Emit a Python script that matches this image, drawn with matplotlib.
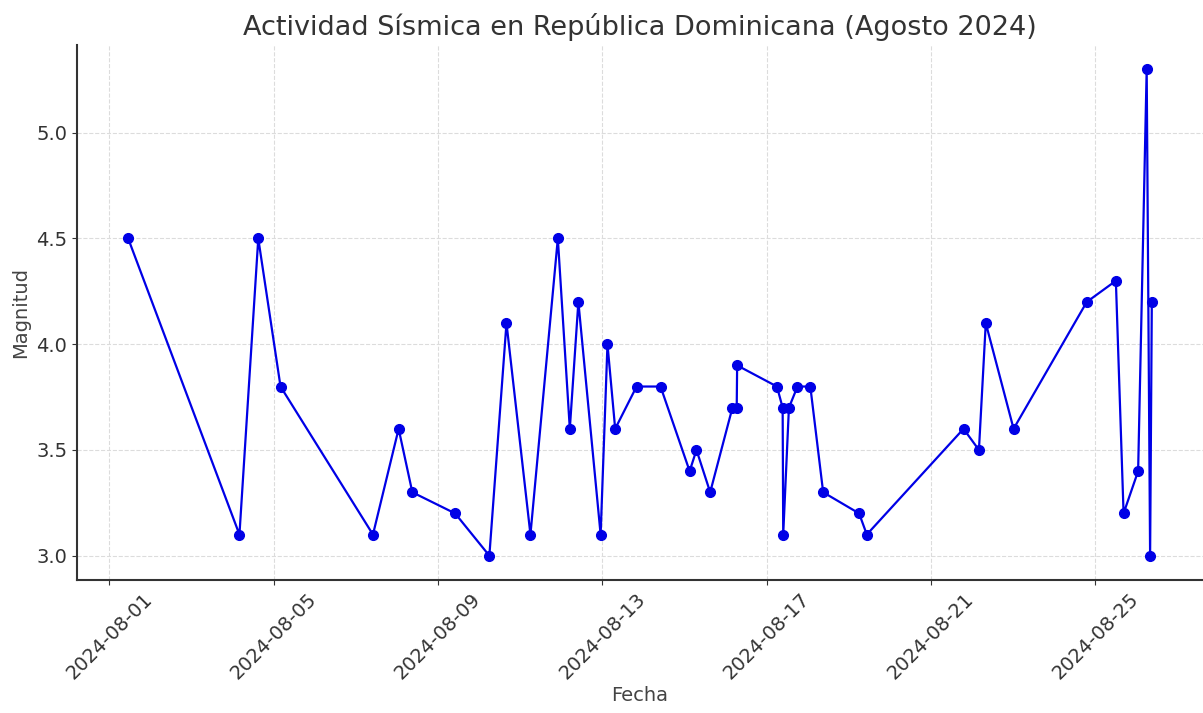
import pandas as pd
import matplotlib
matplotlib.use('Agg')
import matplotlib.pyplot as plt
import matplotlib.dates as mdates

# Sismos (fecha/hora aproximada, magnitud)
fechas = [
    '2024-08-01 11:00', '2024-08-04 04:00', '2024-08-04 15:00', '2024-08-05 04:00',
    '2024-08-07 10:00', '2024-08-08 01:00', '2024-08-08 09:00', '2024-08-09 10:00',
    '2024-08-10 06:00', '2024-08-10 16:00', '2024-08-11 06:00', '2024-08-11 22:00',
    '2024-08-12 05:00', '2024-08-12 10:00', '2024-08-12 23:00', '2024-08-13 03:00',
    '2024-08-13 07:30', '2024-08-13 20:00', '2024-08-14 10:00', '2024-08-15 03:00',
    '2024-08-15 07:00', '2024-08-15 15:00', '2024-08-16 04:00', '2024-08-16 06:30',
    '2024-08-16 06:45', '2024-08-17 06:00', '2024-08-17 09:20', '2024-08-17 09:40',
    '2024-08-17 13:00', '2024-08-17 18:00', '2024-08-18 01:30', '2024-08-18 09:00',
    '2024-08-19 06:00', '2024-08-19 10:30', '2024-08-21 19:00', '2024-08-22 04:00',
    '2024-08-22 08:00', '2024-08-23 00:15', '2024-08-24 19:00', '2024-08-25 12:00',
    '2024-08-25 16:30', '2024-08-26 01:00', '2024-08-26 06:00', '2024-08-26 08:00',
    '2024-08-26 09:00',
]
magnitudes = [
    4.5, 3.1, 4.5, 3.8,
    3.1, 3.6, 3.3, 3.2,
    3.0, 4.1, 3.1, 4.5,
    3.6, 4.2, 3.1, 4.0,
    3.6, 3.8, 3.8, 3.4,
    3.5, 3.3, 3.7, 3.7,
    3.9, 3.8, 3.7, 3.1,
    3.7, 3.8, 3.8, 3.3,
    3.2, 3.1, 3.6, 3.5,
    4.1, 3.6, 4.2, 4.3,
    3.2, 3.4, 5.3, 3.0,
    4.2,
]
dias_tick = [1, 5, 9, 13, 17, 21, 25, 29]

df = pd.DataFrame({'fecha': pd.to_datetime(fechas), 'magnitud': magnitudes})

texto = '#333333'

fig = plt.figure(figsize=(12.03, 7.13), dpi=100)
ax = fig.add_axes([0.064, 0.1865, 0.936, 0.7504])

ax.plot(df['fecha'], df['magnitud'], marker='o', linestyle='-', color='#0000e6',
        linewidth=1.6, markersize=7)

ax.set_title('Actividad Sísmica en República Dominicana (Agosto 2024)',
             fontsize=19.5, color=texto, pad=7)
ax.set_xlabel('Fecha', fontsize=14, color='#444444', labelpad=2)
ax.set_ylabel('Magnitud', fontsize=14, color='#444444')

ax.xaxis.set_major_locator(mdates.DayLocator(bymonthday=dias_tick))
ax.xaxis.set_major_formatter(mdates.DateFormatter('%Y-%m-%d'))
ax.set_yticks([3.0, 3.5, 4.0, 4.5, 5.0])
ax.tick_params(axis='both', labelsize=14, labelcolor=texto, color=texto)
plt.setp(ax.get_xticklabels(), rotation=45)

ax.grid(True, linestyle='--', color='#dcdcdc', linewidth=0.8)
ax.spines['top'].set_visible(False)
ax.spines['right'].set_visible(False)
for s in ('left', 'bottom'):
    ax.spines[s].set_color('#333333')
    ax.spines[s].set_linewidth(1.5)

fig.savefig('out.png', dpi=100)
